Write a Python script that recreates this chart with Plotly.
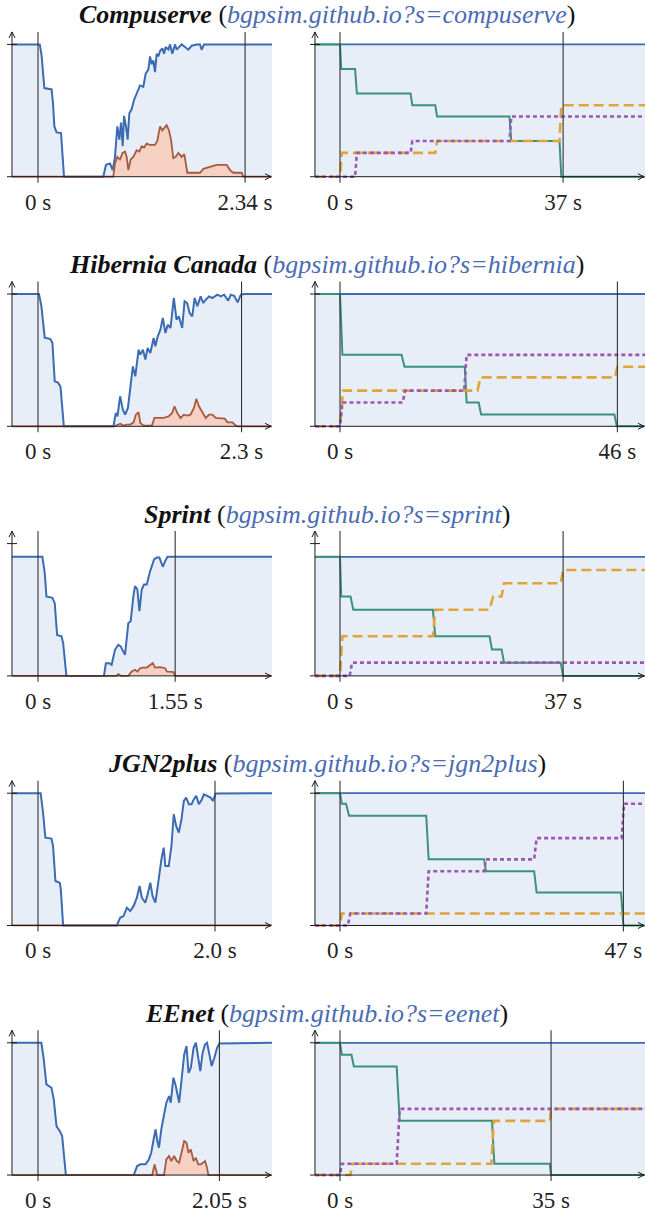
import plotly.graph_objects as go

# ---------------------------------------------------------------- data
titles = ["Compuserve", "Hibernia Canada", "Sprint", "JGN2plus", "EEnet"]
slugs = ["compuserve", "hibernia", "sprint", "jgn2plus", "eenet"]
left_end = [2.34, 2.3, 1.55, 2.0, 2.05]
left_end_text = ["2.34 s", "2.3 s", "1.55 s", "2.0 s", "2.05 s"]
right_end = [37, 46, 37, 47, 35]
right_end_text = ["37 s", "46 s", "37 s", "47 s", "35 s"]
top_level = [1.0, 1.0, 0.90, 1.0, 1.0]

LT0, LT1 = -0.294, 2.644   # left panels: time span of the data (s)
RT0, RT1 = -4.15, 50.6     # right panels: time span of the data (s)

# --- Compuserve
cs_blue_t = [-0.294, 0.02, 0.04, 0.072, 0.154, 0.17, 0.185, 0.21, 0.26, 0.294, 0.738, 0.768, 0.814, 0.844, 0.870,
             0.896, 0.919, 0.938, 0.957, 0.972, 0.994, 1.013, 1.032, 1.058, 1.085, 1.115, 1.153, 1.190, 1.217, 1.247,
             1.266, 1.284, 1.303, 1.322, 1.341, 1.360, 1.379, 1.405, 1.424, 1.443, 1.473, 1.492, 1.518, 1.548, 1.567,
             1.593, 1.623, 1.661, 1.699, 1.736, 1.793, 1.831, 1.849, 1.876, 1.906, 2.644]
cs_blue_v = [1, 1, 0.92, 0.67, 0.66, 0.55, 0.38, 0.335, 0.33, 0, 0, 0.09, 0.10, 0.05, 0.15,
             0.38, 0.28, 0.41, 0.23, 0.46, 0.38, 0.28, 0.48, 0.51, 0.58, 0.63, 0.69, 0.68, 0.78, 0.81,
             0.91, 0.85, 0.88, 0.79, 0.93, 0.91, 0.95, 0.97, 0.93, 0.98, 0.96, 1.0, 0.93, 1.0, 0.96,
             0.98, 1.0, 0.98, 0.96, 0.99, 1.0, 1.0, 0.96, 1.0, 1.0, 1.0]
cs_red_t = [-0.294, 0.851, 0.870, 0.896, 0.926, 0.956, 0.983, 1.002, 1.021, 1.047, 1.077, 1.115, 1.145, 1.171,
            1.198, 1.228, 1.266, 1.322, 1.348, 1.379, 1.405, 1.435, 1.454, 1.480, 1.503, 1.529, 1.556, 1.586,
            1.623, 1.653, 1.687, 1.736, 1.831, 1.868, 1.925, 2.019, 2.132, 2.170, 2.207, 2.301, 2.320, 2.644]
cs_red_v = [0, 0, 0.10, 0.15, 0.13, 0.18, 0.19, 0.15, 0.05, 0.13, 0.15, 0.20, 0.19, 0.23,
            0.22, 0.25, 0.24, 0.24, 0.27, 0.38, 0.35, 0.37, 0.39, 0.35, 0.28, 0.14, 0.15, 0.18,
            0.15, 0.17, 0.03, 0.03, 0.03, 0.06, 0.07, 0.09, 0.09, 0.05, 0.03, 0.03, 0, 0]
cs_teal_t = [-4.15, 0, 0.2, 2.5, 2.8, 11.7, 12.0, 15.8, 16.1, 28.1, 28.4, 36.4, 36.7, 50.6]
cs_teal_v = [1, 1, 0.815, 0.815, 0.63, 0.63, 0.54, 0.54, 0.455, 0.455, 0.27, 0.27, 0, 0]
cs_orange_t = [-4.15, 0, 0.3, 15.8, 16.1, 36.4, 36.7, 50.6]
cs_orange_v = [0, 0, 0.18, 0.18, 0.27, 0.27, 0.54, 0.54]
cs_purple_t = [-4.15, 2.5, 2.8, 11.7, 12.0, 28.1, 28.4, 50.6]
cs_purple_v = [0, 0, 0.18, 0.18, 0.27, 0.27, 0.455, 0.455]

# --- Hibernia Canada
hc_blue_t = [-0.294, 0.011, 0.038, 0.076, 0.140, 0.163, 0.189, 0.227, 0.254, 0.292, 0.853, 0.879, 0.898, 0.928,
             0.959, 0.985, 1.016, 1.050, 1.072, 1.099, 1.137, 1.156, 1.186, 1.213, 1.239, 1.269, 1.307, 1.326,
             1.353, 1.383, 1.410, 1.440, 1.466, 1.497, 1.535, 1.565, 1.592, 1.629, 1.656, 1.686, 1.713, 1.743,
             1.770, 1.800, 1.838, 1.868, 1.895, 1.933, 1.970, 2.027, 2.065, 2.103, 2.149, 2.179, 2.217, 2.255,
             2.293, 2.330, 2.644]
hc_blue_v = [1, 1, 0.91, 0.67, 0.66, 0.63, 0.34, 0.33, 0.30, 0, 0, 0.10, 0.076, 0.227,
             0.126, 0.088, 0.139, 0.353, 0.453, 0.378, 0.579, 0.542, 0.579, 0.504, 0.592, 0.554, 0.668, 0.605,
             0.680, 0.730, 0.819, 0.705, 0.768, 0.743, 0.970, 0.806, 0.831, 0.743, 0.945, 0.932, 0.856, 0.831,
             0.970, 0.907, 0.982, 0.932, 0.957, 0.982, 0.970, 0.995, 0.982, 0.995, 0.950, 0.995, 0.987, 0.937,
             0.995, 1.0, 1.0]
hc_red_t = [-0.294, 0.853, 0.890, 0.928, 0.966, 1.004, 1.042, 1.080, 1.106, 1.137, 1.156, 1.194, 1.288, 1.315,
            1.364, 1.421, 1.478, 1.516, 1.542, 1.573, 1.610, 1.648, 1.686, 1.724, 1.762, 1.789, 1.819, 1.857,
            1.895, 1.933, 1.970, 2.008, 2.065, 2.111, 2.141, 2.198, 2.236, 2.255, 2.644]
hc_red_v = [0, 0, 0.008, 0.02, 0.005, 0.013, 0.013, 0.03, 0.088, 0.106, 0.025, 0.005, 0.005, 0.063,
            0.063, 0.063, 0.076, 0.101, 0.151, 0.101, 0.063, 0.088, 0.081, 0.088, 0.139, 0.207, 0.151, 0.101,
            0.063, 0.088, 0.088, 0.063, 0.063, 0.058, 0.03, 0.03, 0.005, 0, 0]
hc_teal_t = [-4.15, 0, 0.4, 10.2, 10.7, 20.7, 21.0, 23.0, 23.4, 45.5, 45.9, 50.6]
hc_teal_v = [1, 1, 0.54, 0.54, 0.45, 0.45, 0.18, 0.18, 0.09, 0.09, 0, 0]
hc_orange_t = [-4.15, 0, 0.5, 22.8, 23.3, 45.6, 46.0, 50.6]
hc_orange_v = [0, 0, 0.27, 0.27, 0.37, 0.37, 0.45, 0.45]
hc_purple_t = [-4.15, 0, 0.4, 10.4, 10.8, 20.6, 21.0, 50.6]
hc_purple_v = [0, 0, 0.18, 0.18, 0.27, 0.27, 0.54, 0.54]

# --- Sprint
sp_blue_t = [-0.294, 0.049, 0.076, 0.095, 0.163, 0.189, 0.216, 0.265, 0.284, 0.321, 0.745, 0.767, 0.805, 0.832,
             0.870, 0.907, 0.934, 0.983, 1.021, 1.047, 1.078, 1.096, 1.123, 1.146, 1.172, 1.198, 1.229, 1.267,
             1.312, 1.342, 1.372, 1.410, 1.437, 1.463, 2.644]
sp_blue_v = [0.90, 0.90, 0.78, 0.60, 0.59, 0.55, 0.31, 0.30, 0.25, 0, 0, 0.096, 0.096, 0.084,
             0.197, 0.235, 0.223, 0.159, 0.40, 0.413, 0.603, 0.678, 0.653, 0.489, 0.653, 0.691, 0.691, 0.792,
             0.881, 0.894, 0.894, 0.825, 0.868, 0.90, 0.90]
sp_red_t = [-0.294, 0.888, 0.907, 0.934, 1.021, 1.059, 1.096, 1.123, 1.153, 1.183, 1.229, 1.267, 1.297, 1.323,
            1.380, 1.437, 1.456, 1.531, 1.550, 2.644]
sp_red_v = [0, 0, 0.015, 0, 0, 0.033, 0.046, 0.033, 0.058, 0.063, 0.063, 0.084, 0.096, 0.063,
            0.066, 0.058, 0.033, 0.028, 0, 0]
sp_teal_t = [-4.15, 0, 0.2, 1.75, 2.2, 15.4, 15.8, 24.8, 25.2, 26.8, 27.2, 36.6, 37.0, 50.6]
sp_teal_v = [0.9, 0.9, 0.60, 0.60, 0.50, 0.50, 0.30, 0.30, 0.20, 0.20, 0.10, 0.10, 0, 0]
sp_orange_t = [-4.15, 0, 0.4, 15.4, 15.8, 24.8, 25.4, 26.8, 27.2, 36.6, 37.0, 50.6]
sp_orange_v = [0, 0, 0.30, 0.30, 0.50, 0.50, 0.60, 0.60, 0.70, 0.70, 0.80, 0.80]
sp_purple_t = [-4.15, 1.6, 2.0, 50.6]
sp_purple_v = [0, 0, 0.10, 0.10]

# --- JGN2plus
jg_blue_t = [-0.294, 0.030, 0.057, 0.083, 0.152, 0.170, 0.197, 0.246, 0.258, 0.284, 0.890, 0.928, 0.966, 1.004,
             1.042, 1.080, 1.117, 1.148, 1.174, 1.212, 1.239, 1.269, 1.295, 1.326, 1.364, 1.394, 1.420, 1.439,
             1.477, 1.508, 1.534, 1.561, 1.591, 1.621, 1.648, 1.674, 1.705, 1.735, 1.761, 1.788, 1.818, 1.848,
             1.875, 1.913, 1.951, 1.977, 2.008, 2.644]
jg_blue_v = [1, 1, 0.854, 0.664, 0.657, 0.601, 0.336, 0.323, 0.273, 0, 0, 0.058, 0.071, 0.134,
             0.109, 0.146, 0.210, 0.298, 0.210, 0.172, 0.235, 0.323, 0.222, 0.172, 0.348, 0.50, 0.588, 0.449,
             0.449, 0.601, 0.841, 0.753, 0.702, 0.803, 0.942, 0.967, 0.917, 0.917, 0.955, 0.980, 0.917, 0.949,
             0.992, 0.980, 0.967, 0.942, 0.997, 1.0]
jg_red_t = [-0.294, 2.644]
jg_red_v = [0, 0]
jg_teal_t = [-4.15, 0, 0.3, 1.0, 1.5, 14.3, 14.7, 23.9, 24.2, 32.2, 32.6, 46.6, 47.0, 50.6]
jg_teal_v = [1, 1, 0.92, 0.92, 0.83, 0.83, 0.50, 0.50, 0.41, 0.41, 0.25, 0.25, 0, 0]
jg_orange_t = [-4.15, 0, 0.3, 50.6]
jg_orange_v = [0, 0, 0.09, 0.09]
jg_purple_t = [-4.15, 1.3, 1.7, 14.3, 14.7, 23.9, 24.2, 32.2, 32.6, 46.7, 47.1, 50.6]
jg_purple_v = [0, 0, 0.09, 0.09, 0.41, 0.41, 0.50, 0.50, 0.66, 0.66, 0.92, 0.92]

# --- EEnet
ee_blue_t = [-0.294, 0.038, 0.065, 0.095, 0.152, 0.178, 0.209, 0.247, 0.273, 0.315, 1.082, 1.120, 1.158, 1.215,
             1.253, 1.279, 1.310, 1.329, 1.348, 1.367, 1.393, 1.424, 1.450, 1.481, 1.500, 1.530, 1.557, 1.595,
             1.621, 1.652, 1.678, 1.701, 1.727, 1.758, 1.784, 1.811, 1.834, 1.860, 1.887, 1.910, 1.936, 1.963,
             1.993, 2.024, 2.050, 2.644]
ee_blue_v = [1, 1, 0.874, 0.685, 0.660, 0.572, 0.370, 0.332, 0.295, 0, 0, 0.068, 0.081, 0.081,
             0.118, 0.169, 0.282, 0.345, 0.257, 0.207, 0.345, 0.446, 0.547, 0.597, 0.547, 0.736, 0.673, 0.547,
             0.723, 0.912, 0.975, 0.773, 0.811, 0.962, 1.0, 0.887, 0.786, 0.924, 0.987, 1.0, 0.899, 0.824,
             0.887, 0.962, 0.995, 1.0]
ee_red_t = [-0.294, 1.291, 1.317, 1.348, 1.424, 1.450, 1.481, 1.507, 1.538, 1.568, 1.595, 1.621, 1.652, 1.678,
            1.701, 1.727, 1.758, 1.784, 1.811, 1.841, 1.868, 1.887, 1.910, 1.925, 2.644]
ee_red_v = [0, 0, 0.081, 0, 0, 0.118, 0.144, 0.106, 0.144, 0.106, 0.093, 0.169, 0.257, 0.244,
            0.169, 0.194, 0.106, 0.131, 0.081, 0.081, 0.093, 0.106, 0.055, 0, 0]
ee_teal_t = [-4.15, 0, 0.3, 1.9, 2.3, 9.4, 9.9, 25.2, 25.6, 34.8, 35.0, 50.6]
ee_teal_v = [1, 1, 0.91, 0.91, 0.82, 0.82, 0.41, 0.41, 0.085, 0.085, 0, 0]
ee_orange_t = [-4.15, 1.7, 2.1, 25.1, 25.5, 34.8, 35.0, 50.6]
ee_orange_v = [0, 0, 0.085, 0.085, 0.41, 0.41, 0.50, 0.50]
ee_purple_t = [-4.15, 0, 0.3, 9.4, 9.9, 50.6]
ee_purple_v = [0, 0, 0.085, 0.085, 0.50, 0.50]

left_series = [
    ((cs_blue_t, cs_blue_v), (cs_red_t, cs_red_v)),
    ((hc_blue_t, hc_blue_v), (hc_red_t, hc_red_v)),
    ((sp_blue_t, sp_blue_v), (sp_red_t, sp_red_v)),
    ((jg_blue_t, jg_blue_v), (jg_red_t, jg_red_v)),
    ((ee_blue_t, ee_blue_v), (ee_red_t, ee_red_v)),
]
right_series = [
    ((cs_teal_t, cs_teal_v), (cs_orange_t, cs_orange_v), (cs_purple_t, cs_purple_v)),
    ((hc_teal_t, hc_teal_v), (hc_orange_t, hc_orange_v), (hc_purple_t, hc_purple_v)),
    ((sp_teal_t, sp_teal_v), (sp_orange_t, sp_orange_v), (sp_purple_t, sp_purple_v)),
    ((jg_teal_t, jg_teal_v), (jg_orange_t, jg_orange_v), (jg_purple_t, jg_purple_v)),
    ((ee_teal_t, ee_teal_v), (ee_orange_t, ee_orange_v), (ee_purple_t, ee_purple_v)),
]

# ---------------------------------------------------------------- style
W, H = 645, 1213
ROW_H = 250
FONT = "'Liberation Serif', 'Times New Roman', serif"
C_BLUE = "#3b6bb3"
C_BLUE_FILL = "#e8eef8"
C_RED = "#a65a3f"
C_RED_FILL = "#f6d1c3"
C_TEAL = "#3a927b"
C_ORANGE = "#e0a43a"
C_PURPLE = "#9b58ae"
C_AXIS = "#1a1a1a"
C_VLINE = "#333333"
C_LINK = "#4a6cb3"

# pixel geometry of row 0
Y_V0, Y_V1 = 177.0, 44.5       # pixel rows of value 0 and value 1
Y_DOM = (27.0, 186.0)          # subplot top / bottom pixel rows
Y_TIP = 32.0                   # arrow tip of y axis
Y_VBOT = 183.0                 # bottom end of vertical markers
PANELS = {
    "L": dict(px0=38.0, pps=88.5, dom=(3.0, 276.0), xline=(7.0, 271.0), tick=(7.0, 17.0)),
    "R": dict(px0=340.0, pps=6.03, dom=(306.0, 645.0), xline=(310.0, 644.0), tick=(310.0, 320.0)),
}


def vpx(px):
    return (Y_V0 - px) / (Y_V0 - Y_V1)


fig = go.Figure()
shapes = []
annotations = []
layout = {}

for r in range(5):
    off = r * ROW_H
    for side in ("L", "R"):
        g = PANELS[side]
        idx = 2 * r + (1 if side == "L" else 2)
        xa = "x" if idx == 1 else f"x{idx}"
        ya = "y" if idx == 1 else f"y{idx}"
        xkey = "xaxis" if idx == 1 else f"xaxis{idx}"
        ykey = "yaxis" if idx == 1 else f"yaxis{idx}"

        def tpx(px, g=g):
            return (px - g["px0"]) / g["pps"]

        dx = 1.0 / g["pps"]                 # one pixel in time units
        dy = 1.0 / (Y_V0 - Y_V1)            # one pixel in value units
        end = left_end[r] if side == "L" else right_end[r]
        end_txt = left_end_text[r] if side == "L" else right_end_text[r]
        t_axis = LT0 if side == "L" else RT0

        layout[xkey] = dict(
            domain=[g["dom"][0] / W, g["dom"][1] / W],
            range=[tpx(g["dom"][0]), tpx(g["dom"][1])],
            anchor=ya, showgrid=False, zeroline=False, showline=False, ticks="",
            tickmode="array", tickvals=[0, end], ticktext=["0 s", end_txt],
            tickfont=dict(family=FONT, size=23, color="#222"), fixedrange=True,
        )
        layout[ykey] = dict(
            domain=[1 - (Y_DOM[1] + off) / H, 1 - (Y_DOM[0] + off) / H],
            range=[vpx(Y_DOM[1]), vpx(Y_DOM[0])],
            anchor=xa, showgrid=False, zeroline=False, showline=False,
            showticklabels=False, ticks="", fixedrange=True,
        )

        if side == "L":
            (bt, bv), (rt, rv) = left_series[r]
            fig.add_trace(go.Scatter(x=bt, y=bv, xaxis=xa, yaxis=ya, mode="lines",
                                     line=dict(color=C_BLUE, width=2), fill="tozeroy",
                                     fillcolor=C_BLUE_FILL, hoverinfo="skip", showlegend=False))
            fig.add_trace(go.Scatter(x=rt, y=rv, xaxis=xa, yaxis=ya, mode="lines",
                                     line=dict(color=C_RED, width=1.8), fill="tozeroy",
                                     fillcolor=C_RED_FILL, hoverinfo="skip", showlegend=False))
        else:
            (tt, tv), (ot, ov), (pt, pv) = right_series[r]
            fig.add_trace(go.Scatter(x=[RT0, RT1], y=[top_level[r], top_level[r]], xaxis=xa, yaxis=ya,
                                     mode="lines", line=dict(color=C_BLUE, width=1.8), fill="tozeroy",
                                     fillcolor=C_BLUE_FILL, hoverinfo="skip", showlegend=False))
            fig.add_trace(go.Scatter(x=tt, y=tv, xaxis=xa, yaxis=ya, mode="lines",
                                     line=dict(color=C_TEAL, width=2), hoverinfo="skip", showlegend=False))
            fig.add_trace(go.Scatter(x=ot, y=ov, xaxis=xa, yaxis=ya, mode="lines",
                                     line=dict(color=C_ORANGE, width=2.6, dash="10px,5px"),
                                     hoverinfo="skip", showlegend=False))
            fig.add_trace(go.Scatter(x=pt, y=pv, xaxis=xa, yaxis=ya, mode="lines",
                                     line=dict(color=C_PURPLE, width=2.6, dash="4px,3px"),
                                     hoverinfo="skip", showlegend=False))

        ln = dict(color=C_AXIS, width=1)
        # vertical markers at 0 and at the end time
        for tv_ in (0, end):
            shapes.append(dict(type="line", xref=xa, yref=ya, x0=tv_, x1=tv_,
                               y0=vpx(Y_VBOT), y1=vpx(Y_TIP), layer="above",
                               line=dict(color=C_VLINE, width=1.1)))
        # y axis with arrow
        y_tip = vpx(Y_TIP)
        shapes.append(dict(type="line", xref=xa, yref=ya, x0=t_axis, x1=t_axis, y0=0, y1=y_tip,
                           layer="above", line=ln))
        shapes.append(dict(type="path", xref=xa, yref=ya, layer="above", line=ln,
                           path=f"M {t_axis - 3 * dx},{y_tip - 6 * dy} L {t_axis},{y_tip} "
                                f"L {t_axis + 3 * dx},{y_tip - 6 * dy}"))
        # top tick at value 1
        shapes.append(dict(type="line", xref=xa, yref=ya, x0=tpx(g["tick"][0]), x1=tpx(g["tick"][1]),
                           y0=1, y1=1, layer="above", line=ln))
        # x axis with arrow
        x_tip = tpx(g["xline"][1])
        shapes.append(dict(type="line", xref=xa, yref=ya, x0=tpx(g["xline"][0]), x1=x_tip, y0=0, y1=0,
                           layer="above", line=ln))
        shapes.append(dict(type="path", xref=xa, yref=ya, layer="above", line=ln,
                           path=f"M {x_tip - 6 * dx},{3 * dy} L {x_tip},0 L {x_tip - 6 * dx},{-3 * dy}"))

    annotations.append(dict(
        xref="paper", yref="paper", x=0.5 + 4 / W, y=1 - (15 + off) / H,
        xanchor="center", yanchor="middle", showarrow=False,
        text=(f"<b><i>{titles[r]}</i></b> (<i><span style='color:{C_LINK}'>"
              f"bgpsim.github.io?s={slugs[r]}</span></i>)"),
        font=dict(family=FONT, size=26, color="#111"),
    ))

fig.update_layout(
    width=W, height=H, margin=dict(l=0, r=0, t=0, b=0),
    paper_bgcolor="white", plot_bgcolor="rgba(0,0,0,0)",
    font=dict(family=FONT, color="#222"),
    shapes=shapes, annotations=annotations, showlegend=False,
    **layout,
)

fig.write_html("out.html", config={"displayModeBar": False})
